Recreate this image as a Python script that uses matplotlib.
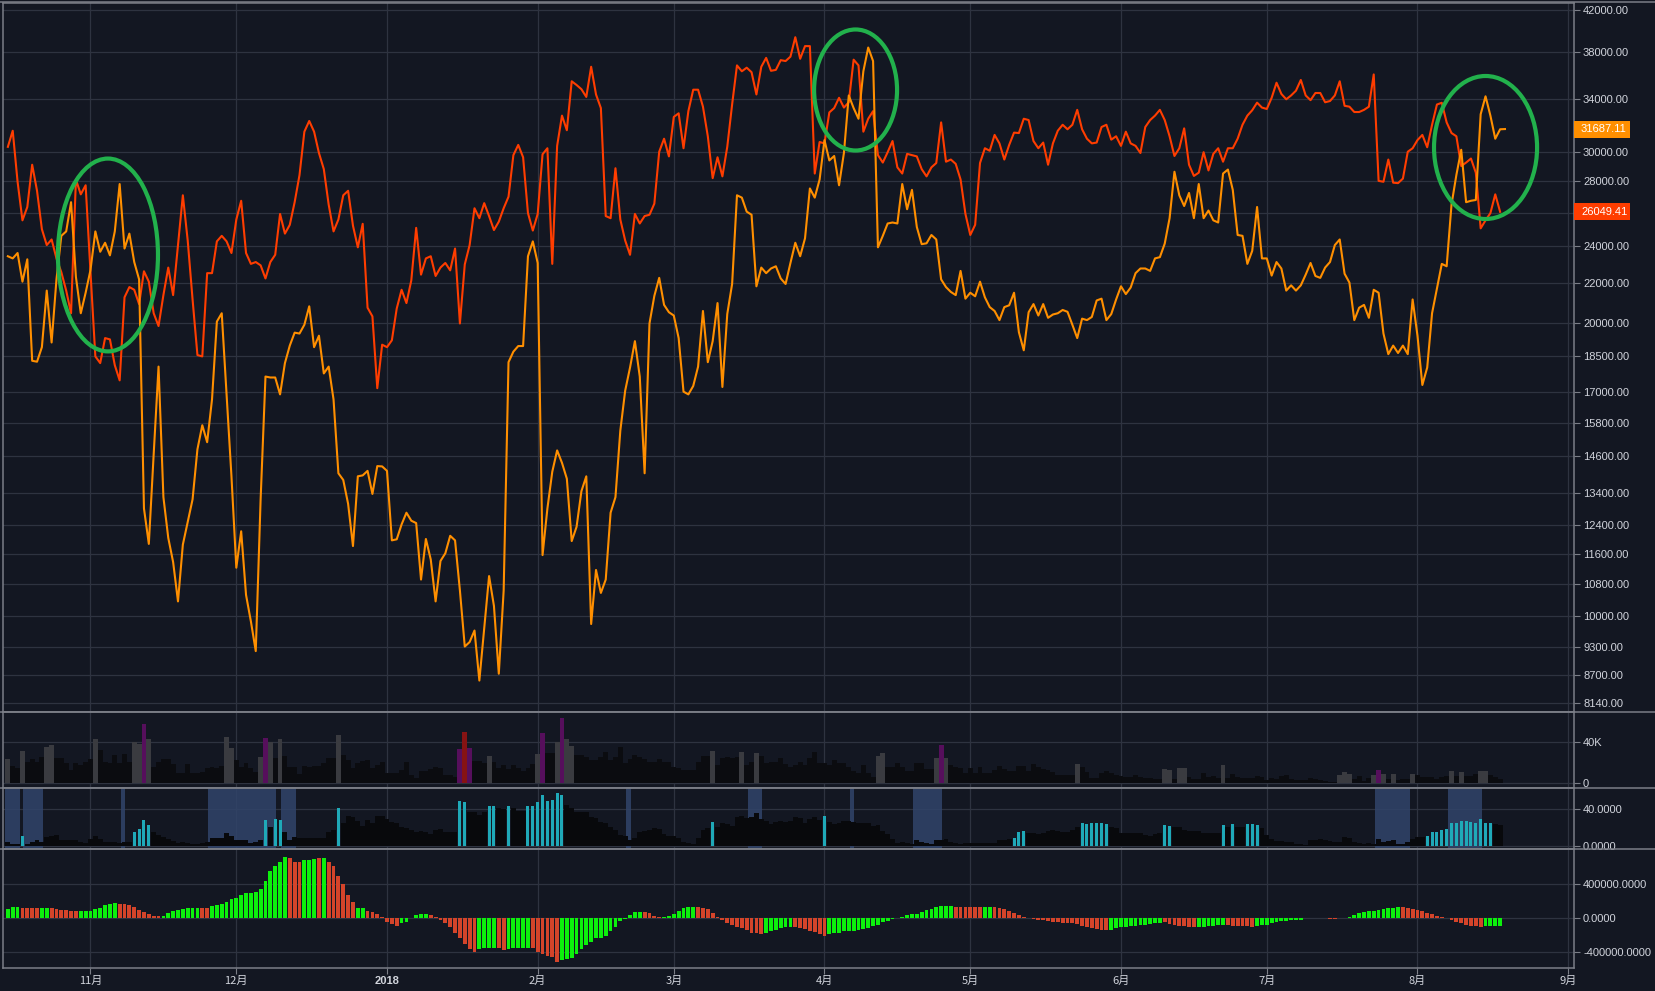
import numpy as np
import pandas as pd
import matplotlib
matplotlib.use("Agg")
import matplotlib.pyplot as plt
import matplotlib.dates as mdates
from matplotlib.patches import Ellipse, Rectangle
from matplotlib.lines import Line2D
from matplotlib.ticker import NullLocator

plt.rcParams['font.family'] = ['Liberation Sans', 'DejaVu Sans']

# ---- data (daily, first day 2017-10-15) ----
start = "2017-10-15"

red_close = [
    30380, 31560, 27970, 25530, 26350, 29120, 27380, 25000, 24080, 24400,
    23330, 22580, 21620, 20490, 28120, 27150, 27740, 22580, 18500, 18210,
    19320, 19260, 18120, 17480, 21280, 21800, 21660, 20940, 22630, 22080,
    20490, 19880, 21390, 22830, 21390, 24080, 27090, 24340, 21170, 18560,
    18500, 22530, 22530, 24290, 24610, 24290, 23630, 25580, 26740, 23630,
    23030, 23130, 22950, 22250, 23130, 23530, 25920, 24740, 25260, 26650,
    28420, 31490, 32300, 31490, 29940, 28820, 26500, 24870, 25580, 27090,
    27380, 25210, 23950, 25320, 20760, 20340, 17160, 19020, 18910, 19220,
    20720, 21660, 20990, 22150, 25080, 22450, 23330, 23450, 22380, 22830,
    23080, 22680, 23880, 20000, 23000, 24080, 26270, 25660, 26590, 25790,
    24950, 25450, 26270, 27000, 29790, 30520, 29640, 25970, 24920, 25920,
    29850, 30280, 23030, 30450, 32710, 31600, 35480, 35170, 34820, 34190,
    36720, 34390, 33300, 25790, 25660, 28880, 25580, 24340, 23530, 25920,
    25340, 25790, 25870, 26560, 30030, 30970, 29700, 32610, 32890, 30280,
    33060, 34780, 34780, 33410, 31150, 28210, 29640, 28330, 30380, 33580,
    36840, 36330, 36640, 36250, 34390, 36720, 37500, 36370, 36450, 37300,
    37220, 37610, 39380, 37420, 38560, 38560, 28520, 30730, 30630, 32960,
    33300, 34120, 33340, 33760, 37340, 36840, 31490, 32470, 33060, 29790,
    29270, 30000, 30800, 28940, 28520, 29880, 29790, 29700, 28820, 28330,
    28940, 29240, 32190, 29330, 29480, 29180, 28120, 25920, 24660, 25260,
    29240, 30280, 30100, 31250, 30630, 29480, 30520, 31420, 31390, 32470,
    32370, 30800, 30280, 30690, 29120, 30630, 31560, 32010, 31670, 32010,
    33160, 31670, 30970, 30630, 30690, 31840, 32010, 30900, 31150, 30450,
    31490, 30630, 30450, 29940, 31840, 32370, 32710, 33160, 32370, 31150,
    29730, 30280, 31740, 29120, 28360, 28580, 30000, 28730, 29880, 30280,
    29330, 30280, 30280, 30970, 32010, 32710, 33130, 33730, 33340, 33230,
    34120, 35360, 34430, 34000, 34310, 34700, 35590, 34310, 33930, 34510,
    34510, 33760, 33860, 34310, 35480, 33480, 33410, 32990, 32990, 33160,
    33410, 36060, 28030, 27970, 29480, 27910, 27880, 28180, 30030, 30280,
    30870, 31250, 30350, 32010, 33580, 33720, 32190, 31390, 31150, 29030,
    29270, 29550, 28580, 25050, 25530, 25970, 27150, 26049.41,
]

orange_close = [
    23450, 23330, 23630, 22080, 23280, 18310, 18270, 18910, 21620, 19120,
    22200, 24610, 24870, 26650, 22330, 20490, 21510, 22700, 24870, 23700,
    24210, 23500, 24870, 27820, 23880, 24740, 23130, 22200, 12910, 11870,
    14680, 18060, 13260, 12040, 11370, 10360, 11850, 12500, 13190, 14850,
    15720, 15100, 16710, 20090, 20490, 16880, 13930, 11220, 12230, 10520,
    9880, 9210, 13190, 17640, 17600, 17600, 16910, 18210, 18980, 19570,
    19530, 19940, 20830, 18910, 19430, 17770, 18060, 16710, 14030, 13810,
    13050, 11810, 13930, 13960, 14110, 13360, 14270, 14260, 14110, 11970,
    12000, 12430, 12780, 12540, 12470, 10910, 12010, 11440, 10360, 11400,
    11610, 12100, 11970, 10630, 9310, 9410, 9670, 8590, 9720, 11000,
    10250, 8730, 10630, 18250, 18710, 18960, 18960, 23450, 24290, 23080,
    11560, 12910, 14080, 14810, 14380, 13850, 11950, 12360, 13450, 13930,
    9820, 11160, 10570, 10910, 12780, 13260, 15520, 17060, 18020, 19180,
    17640, 14030, 20000, 21350, 22280, 20900, 20540, 20380, 19320, 17020,
    16910, 17250, 18060, 20600, 18250, 19180, 20990, 17210, 20450, 21960,
    27090, 26940, 26060, 25870, 21840, 22830, 22530, 22780, 22900, 22250,
    21960, 23080, 24210, 23450, 24470, 27530, 26940, 28120, 30870, 29420,
    29730, 27740, 29940, 34310, 33300, 32470, 36330, 38430, 37220, 23950,
    24610, 25340, 25400, 25340, 27820, 26210, 27440, 25130, 24130, 24180,
    24660, 24400, 22200, 21800, 21550, 21390, 22650, 21210, 21510, 21330,
    22080, 21280, 20790, 20600, 20160, 20790, 20880, 21510, 19590, 18770,
    20540, 20940, 20380, 20940, 20270, 20430, 20490, 20650, 20560, 19940,
    19320, 20230, 20160, 20310, 21120, 21210, 20160, 20450, 21170, 21840,
    21440, 21780, 22530, 22780, 22780, 22650, 23330, 23400, 24160, 25660,
    28640, 27090, 26410, 27240, 25660, 27820, 25660, 26130, 25530, 25400,
    28520, 28790, 27440, 24660, 24610, 23030, 23750, 26350, 23330, 23330,
    22400, 23130, 22780, 21620, 21890, 21620, 21890, 22450, 23080, 22380,
    22280, 22830, 23130, 24080, 24400, 22500, 22030, 20160, 20760, 20900,
    20270, 21660, 21510, 19530, 18600, 18980, 18650, 18980, 18600, 21170,
    19430, 17290, 18020, 20490, 21730, 23030, 22900, 26500, 28420, 30170,
    26650, 26740, 26790, 32820, 34240, 32710, 30970, 31670, 31687.11,
]

# volume in thousands
vol_k = [
    23.0, 16.6, 14.4, 31.0, 20.2, 23.0, 20.2, 25.6, 35.2, 36.8,
    24.0, 24.0, 19.2, 12.8, 19.2, 17.6, 20.8, 23.0, 42.2, 32.0,
    20.8, 19.8, 27.2, 19.2, 28.2, 20.2, 40.0, 37.8, 57.0, 42.2,
    15.4, 20.8, 23.0, 23.0, 18.6, 10.2, 10.2, 18.6, 9.6, 10.2,
    11.2, 14.4, 15.4, 14.4, 16.6, 44.2, 33.6, 22.4, 16.0, 19.8,
    14.4, 11.2, 25.0, 43.2, 40.0, 24.0, 42.2, 26.2, 15.4, 15.4,
    9.0, 16.6, 16.0, 17.0, 17.0, 19.2, 24.0, 24.0, 46.4, 27.2,
    22.4, 14.4, 19.8, 21.8, 22.4, 14.4, 17.6, 20.8, 10.2, 10.2,
    9.6, 12.8, 20.8, 8.0, 5.4, 12.2, 12.2, 13.4, 15.4, 14.4,
    8.0, 8.0, 5.8, 32.6, 49.0, 33.6, 21.4, 21.4, 19.2, 26.2,
    20.2, 14.4, 17.6, 13.4, 17.6, 14.4, 12.2, 14.4, 18.2, 28.2,
    48.0, 28.8, 28.8, 40.0, 62.4, 42.2, 35.8, 27.2, 27.2, 25.6,
    22.4, 22.4, 25.0, 30.4, 22.4, 25.6, 35.2, 19.8, 23.0, 27.2,
    25.0, 23.0, 20.8, 20.2, 23.0, 20.5, 20.5, 15.4, 14.4, 12.8,
    12.8, 12.8, 20.8, 26.2, 26.2, 31.0, 17.6, 24.0, 25.0, 24.0,
    25.0, 30.1, 17.6, 20.8, 28.8, 26.2, 19.8, 20.5, 20.8, 24.0,
    18.6, 16.0, 17.6, 20.2, 17.6, 24.0, 29.8, 19.2, 19.2, 17.6,
    22.4, 19.8, 19.8, 16.0, 11.8, 10.2, 17.6, 10.2, 6.4, 26.2,
    28.8, 15.4, 15.4, 19.8, 15.4, 12.2, 12.2, 19.2, 19.2, 13.4,
    13.4, 24.0, 36.8, 24.0, 17.6, 16.0, 14.4, 9.6, 14.4, 9.6,
    15.4, 9.6, 9.6, 12.8, 16.6, 13.4, 12.2, 12.2, 16.6, 16.6,
    12.2, 18.6, 16.0, 13.4, 12.8, 11.2, 8.0, 8.0, 8.0, 8.0,
    18.6, 15.4, 11.2, 4.8, 4.8, 10.2, 12.2, 10.2, 8.0, 7.0,
    6.4, 6.4, 7.7, 6.4, 5.4, 4.8, 3.8, 3.8, 13.8, 12.8,
    3.8, 14.7, 14.7, 5.8, 4.5, 3.8, 10.2, 5.8, 7.0, 4.8,
    17.6, 4.8, 9.0, 5.8, 4.8, 5.4, 4.8, 7.0, 5.8, 3.2,
    5.4, 4.2, 7.0, 8.0, 4.2, 3.2, 3.2, 3.2, 5.4, 4.2,
    3.2, 2.6, 1.6, 1.6, 8.0, 11.2, 9.0, 3.8, 7.0, 2.6,
    4.8, 8.0, 12.8, 9.0, 3.8, 9.0, 3.2, 4.5, 4.5, 9.0,
    7.7, 5.8, 5.8, 5.8, 4.2, 5.8, 7.0, 11.8, 7.0, 11.2,
    7.0, 7.0, 9.0, 11.8, 11.8, 8.0, 6.4, 3.8,
]
vol_gray_days = [0, 3, 8, 9, 18, 26, 27, 29, 45, 46, 52, 54, 56, 68, 99, 109, 113,
                 115, 116, 145, 151, 154, 179, 180, 191, 193, 220, 238, 239, 241,
                 242, 250, 274, 275, 276, 281, 283, 285, 289, 297, 299, 303, 304]
vol_purple_days = [28, 53, 93, 95, 110, 114, 192, 282]
vol_red_days = [94]

ind_val = [
    4.4, 1.8, 1.8, 10.5, 1.8, 4.4, 6.2, 4.4, 9.8, 10.5,
    11.6, 6.2, 6.2, 6.2, 6.2, 4.4, 3.3, 6.9, 10.5, 6.9,
    4.4, 4.4, 4.4, 3.3, 4.4, 4.4, 14.9, 18.5, 28.0, 22.5,
    14.5, 11.6, 9.1, 6.9, 5.1, 3.3, 4.0, 2.5, 1.8, 1.5,
    2.5, 4.0, 8.7, 8.7, 8.7, 14.2, 10.5, 6.2, 6.2, 6.2,
    3.3, 4.4, 6.2, 28.0, 20.7, 29.1, 28.0, 14.5, 6.2, 9.8,
    8.7, 8.7, 8.7, 8.7, 8.7, 8.7, 14.5, 17.1, 41.5, 24.4,
    32.4, 30.9, 26.9, 21.5, 28.0, 24.4, 32.4, 32.4, 28.7, 26.2,
    24.4, 20.7, 19.6, 17.1, 14.5, 16.4, 14.5, 12.4, 17.1, 17.8,
    15.3, 15.3, 15.3, 48.7, 47.6, 37.1, 37.1, 33.5, 37.1, 43.3,
    43.3, 41.5, 40.4, 43.3, 40.7, 38.2, 37.8, 43.3, 43.3, 47.3,
    55.3, 48.7, 49.8, 57.1, 55.3, 44.4, 40.7, 37.1, 36.4, 36.4,
    30.9, 29.8, 26.2, 25.1, 20.0, 17.1, 11.6, 10.5, 6.2, 8.0,
    14.5, 16.0, 17.1, 18.9, 17.8, 12.4, 10.5, 10.5, 8.0, 4.4,
    3.3, 1.8, 8.0, 17.1, 19.6, 25.8, 20.7, 24.4, 23.6, 21.5,
    30.9, 32.4, 30.5, 30.9, 35.3, 29.1, 27.3, 23.6, 26.2, 27.3,
    26.2, 27.3, 30.9, 29.8, 24.4, 28.7, 30.9, 28.0, 32.4, 26.2,
    23.6, 24.4, 27.3, 27.3, 25.5, 24.4, 25.1, 24.4, 21.8, 22.5,
    16.4, 12.7, 6.9, 3.3, 4.4, 3.3, 1.8, 6.2, 4.4, 2.5,
    1.8, 6.2, 6.2, 6.9, 4.4, 3.3, 1.8, 3.3, 3.3, 2.5,
    2.5, 2.5, 2.5, 3.3, 6.2, 6.2, 6.9, 8.7, 14.5, 16.0,
    13.5, 13.5, 12.4, 13.5, 16.4, 17.1, 16.4, 14.5, 14.5, 17.1,
    20.7, 24.4, 23.6, 24.4, 24.4, 24.4, 23.6, 20.0, 18.9, 13.5,
    13.5, 13.5, 13.5, 13.5, 11.6, 10.5, 12.7, 13.5, 22.5, 21.5,
    20.0, 20.0, 17.1, 16.0, 16.0, 16.0, 14.2, 13.5, 13.5, 13.5,
    22.5, 20.7, 23.6, 20.7, 20.7, 23.6, 23.6, 22.5, 18.9, 11.6,
    6.9, 5.5, 5.5, 3.6, 3.6, 1.8, 1.8, 0.4, 6.2, 6.2,
    6.9, 6.2, 5.5, 4.4, 4.4, 9.1, 8.7, 4.4, 2.5, 1.8,
    2.5, 1.8, 6.9, 4.4, 5.5, 6.2, 1.8, 1.8, 3.6, 6.9,
    9.1, 9.8, 10.5, 15.3, 15.3, 17.1, 18.2, 25.1, 24.4, 26.9,
    26.9, 25.5, 24.4, 29.1, 24.4, 24.4, 23.3, 22.5,
]
ind_cyan_days = [3, 26, 27, 28, 29, 53, 55, 56, 68, 93, 94, 99, 100, 103,
                 107, 108, 109, 110, 111, 112, 113, 114, 145, 168, 207, 208, 209,
                 221, 222, 223, 224, 225, 226, 238, 239, 250, 252, 255, 256, 257,
                 292, 293, 294, 295, 296, 297, 298, 299, 300, 301, 302, 303, 304, 305]
band_start = [-0.6, 3.1, 23.3, 41.2, 56.2, 127.2, 152.3, 173.3, 186.2, 281.2, 296.2]
band_end = [2.4, 7.2, 24.1, 55.2, 59.3, 128.2, 155.2, 174.1, 192.2, 288.4, 303.2]

# histogram in thousands
macd_k = [
    106, 133, 133, 122, 122, 122, 122, 122, 122, 118,
    110, 98, 94, 86, 78, 86, 86, 86, 110, 122,
    149, 161, 172, 169, 169, 157, 129, 98, 71, 47,
    27, 24, 27, 59, 78, 98, 110, 122, 122, 122,
    122, 122, 141, 149, 165, 192, 227, 235, 263, 286,
    286, 298, 333, 427, 545, 608, 655, 710, 702, 655,
    651, 682, 682, 694, 698, 698, 655, 608, 486, 392,
    274, 184, 114, 118, 86, 74, 43, 8, -51, -71,
    -90, -63, -43, 4, 35, 51, 51, 35, 16, -24,
    -63, -110, -169, -235, -298, -365, -392, -365, -353, -353,
    -345, -353, -372, -365, -353, -345, -345, -345, -345, -392,
    -423, -443, -455, -510, -494, -482, -463, -416, -365, -318,
    -274, -235, -235, -208, -157, -102, -39, -10, 39, 74,
    74, 74, 59, 27, 16, 16, 27, 51, 78, 118,
    125, 133, 133, 122, 102, 55, 8, -24, -63, -78,
    -102, -122, -141, -176, -180, -188, -180, -149, -141, -122,
    -110, -110, -110, -122, -129, -149, -161, -188, -208, -188,
    -176, -169, -157, -149, -149, -137, -129, -122, -98, -78,
    -51, -31, -12, 4, 16, 31, 47, 47, 74, 94,
    110, 133, 137, 141, 141, 133, 133, 133, 133, 133,
    133, 133, 133, 133, 122, 106, 86, 59, 35, 16,
    2, -12, -20, -24, -31, -43, -51, -59, -59, -63,
    -71, -90, -110, -122, -129, -137, -137, -137, -122, -110,
    -102, -98, -90, -86, -78, -71, -63, -63, -51, -71,
    -78, -90, -98, -110, -110, -110, -110, -98, -90, -78,
    -78, -78, -90, -90, -90, -90, -102, -90, -82, -78,
    -63, -51, -39, -31, -24, -20, -20, -2, -2, -2,
    -2, -2, -16, -16, -2, 4, 16, 39, 63, 74,
    86, 86, 94, 106, 118, 118, 125, 125, 118, 110,
    98, 86, 63, 47, 27, 8, -2, -24, -51, -63,
    -78, -90, -98, -110, -98, -98, -98, -98,
]
# run lengths of rising (green) / falling (red) bars, starting with rising
macd_runs = [3, 4, 2, 6, 8, 9, 8, 2, 16, 3, 3, 1, 1, 6, 2, 7, 6, 10, 4, 2, 5, 6,
             17, 4, 7, 14, 6, 7, 26, 6, 2, 24, 11, 7, 6, 6, 15, 2, 13, 17, 4]

price_ticks = [42000, 38000, 34000, 30000, 28000, 26000, 24000, 22000, 20000,
               18500, 17000, 15800, 14600, 13400, 12400, 11600, 10800, 10000,
               9300, 8700, 8140]

# ---- styling ----
BG = '#131722'
GRID = '#2e3340'
SEP = '#7b7e87'
TXT = '#d1d4dc'
RED = '#ff3d00'
ORANGE = '#ff8f00'

t0 = mdates.date2num(pd.Timestamp(start))
x_red = t0 + np.arange(len(red_close))
x_org = t0 + np.arange(len(orange_close))
x_bar = t0 + np.arange(len(vol_k))
xlim = (t0 - 1.0, t0 + 322.2)

months = pd.date_range("2017-11-01", "2018-09-01", freq="MS")
month_x = mdates.date2num(months)
month_lbl = [str(m.year) if m.month == 1 else f"{m.month}月" for m in months]

W, H = 1655, 991
fig = plt.figure(figsize=(W / 100, H / 100), dpi=100, facecolor=BG)
L, Wd = 3 / W, 1571 / W
ax_p = fig.add_axes([L, 1 - 712 / H, Wd, 709 / H])
ax_v = fig.add_axes([L, 1 - 788 / H, Wd, 76 / H])
ax_i = fig.add_axes([L, 1 - 849 / H, Wd, 61 / H])
ax_m = fig.add_axes([L, 1 - 968 / H, Wd, 119 / H])

for ax in (ax_p, ax_v, ax_i, ax_m):
    ax.set_facecolor(BG)
    ax.set_xlim(*xlim)
    ax.set_axisbelow(True)
    ax.yaxis.tick_right()
    ax.set_xticks(month_x)
    ax.grid(True, color=GRID, lw=0.9)
    ax.tick_params(axis='y', colors=SEP, labelcolor=TXT, labelsize=8,
                   length=4, width=0.8, pad=2.5)
    ax.tick_params(axis='x', colors=SEP, length=0, labelbottom=False)
    for s in ax.spines.values():
        s.set_color(SEP)
        s.set_linewidth(1.1)

# price panel
ax_p.set_yscale('log')
ax_p.plot(x_red, red_close, color=RED, lw=1.5, zorder=3)
ax_p.plot(x_org, orange_close, color=ORANGE, lw=1.5, zorder=4)
ax_p.set_ylim(7974, 42702)
ax_p.yaxis.set_minor_locator(NullLocator())
ax_p.set_yticks(price_ticks)
ax_p.set_yticklabels(['' if v == 26000 else f"{v:.2f}" for v in price_ticks])

for cx, cy, ew, eh in [(0.0668, 0.6446, 0.0637, 0.272),
                       (0.5427, 0.8773, 0.0528, 0.1707),
                       (0.9437, 0.7962, 0.0656, 0.2017)]:
    ax_p.add_patch(Ellipse((cx, cy), ew, eh, transform=ax_p.transAxes,
                           fill=False, ec='#22b14c', lw=3.0, zorder=6))

# last value tags
for val, col in [(orange_close[-1], ORANGE), (red_close[-1], RED)]:
    y = ax_p.transData.transform((xlim[0], val))[1]
    x0 = ax_p.get_position().x1 * W
    fig.add_artist(Rectangle((x0, y - 8.5), 56, 17, transform=None,
                             fc=col, ec='none', zorder=10))
    fig.text((x0 + 7) / W, y / H, f"{val:.2f}", color='white', fontsize=8,
             ha='left', va='center', zorder=11)

# volume panel
vcol = ['#0b0c10'] * len(vol_k)
for d in vol_gray_days:
    vcol[d] = '#3a3b40'
for d in vol_purple_days:
    vcol[d] = '#560f5c'
for d in vol_red_days:
    vcol[d] = '#861313'
ax_v.bar(x_bar, vol_k, width=1.0, color=vcol, linewidth=0, zorder=3)
ax_v.set_ylim(-4.5, 68.6)
ax_v.set_yticks([0, 40])
ax_v.set_yticklabels(['0', '40K'])

# indicator panel
for a, b in zip(band_start, band_end):
    ax_i.axvspan(t0 + a, t0 + b, color='#31446a', alpha=0.85, lw=0, zorder=1)
cyan = set(ind_cyan_days)
blk = [d for d in range(len(ind_val)) if d not in cyan]
cy_d = sorted(cyan)
ax_i.bar(t0 + np.array(blk), [ind_val[d] for d in blk], width=1.0,
         color='#08090c', linewidth=0, zorder=3)
ax_i.bar(t0 + np.array(cy_d), [ind_val[d] for d in cy_d], width=0.62,
         color='#1fa9b8', linewidth=0, zorder=3)
ax_i.set_ylim(-3.6, 62.9)
ax_i.set_yticks([0, 40])
ax_i.set_yticklabels(['0.0000', '40.0000'])

# histogram panel
mcol = []
for i, n in enumerate(macd_runs):
    mcol += [('#0cf00c' if i % 2 == 0 else '#d4442a')] * n
ax_m.bar(x_bar, macd_k, width=0.78, color=mcol, linewidth=0, zorder=3)
ax_m.set_ylim(-583, 805)
ax_m.set_yticks([-400, 0, 400])
ax_m.set_yticklabels(['-400000.0000', '0.0000', '400000.0000'])
ax_m.tick_params(axis='x', labelbottom=True, length=4, width=0.8, pad=2,
                 labelcolor=TXT, labelsize=8)
ax_m.set_xticklabels(month_lbl)
for lbl in ax_m.get_xticklabels():
    if lbl.get_text().isdigit():
        lbl.set_fontfamily(['Liberation Sans', 'DejaVu Sans'])
        lbl.set_fontweight('bold')
    else:
        lbl.set_fontfamily(['Noto Sans CJK SC', 'DejaVu Sans'])

# panel separators running across the price scale
for yy in (712, 788, 849):
    fig.add_artist(Line2D([0, 1], [1 - yy / H] * 2, transform=fig.transFigure,
                          color=SEP, lw=1.1))
fig.add_artist(Line2D([0, 1], [1 - 2 / H] * 2, transform=fig.transFigure,
                      color=SEP, lw=1.1))

fig.savefig('out.png', dpi=100, facecolor=BG)
